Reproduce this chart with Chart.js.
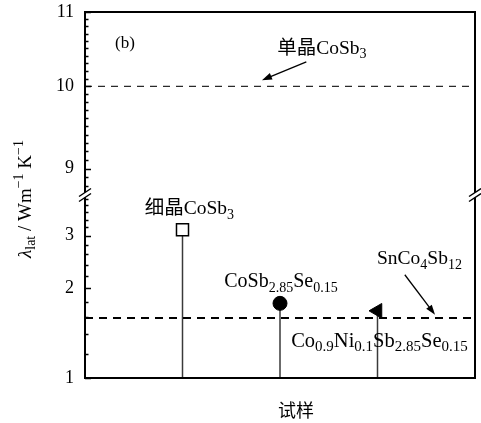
<!DOCTYPE html>
<html>
<head>
<meta charset="utf-8">
<script src="https://cdn.jsdelivr.net/npm/chart.js@4.4.1/dist/chart.umd.min.js"></script>
<style>
  html, body { margin: 0; padding: 0; background: #fff; }
  #wrap { width: 481px; height: 423px; }
</style>
</head>
<body>
<div id="wrap"><canvas id="c" width="481" height="423"></canvas></div>
<script>
// Samples along the horizontal axis and their lattice thermal conductivity (W m^-1 K^-1)
const samplePos = [1, 2, 3];
const latticeK = [3.14, 1.78, 1.68];
const markerStyle = ['rect', 'circle', 'triangle'];

// Reference levels drawn as dashed lines
const singleCrystalK = 10;   // 单晶 CoSb3
const filledK = 1.59;        // SnCo4Sb12

// Tick values of the broken (two-part) logarithmic axis
const upperMajor = [9, 10, 11];
const upperMinor = [8.8, 8.9, 9.1, 9.2, 9.3, 9.4, 9.5, 9.6, 9.7, 9.8, 9.9,
                    10.1, 10.2, 10.3, 10.4, 10.5, 10.6, 10.7, 10.8, 10.9];
const lowerMajor = [1, 2, 3];
const lowerMinor = [1.2, 1.4, 1.6, 1.8, 2.2, 2.4, 2.6, 2.8, 3.2, 3.4, 3.6, 3.8, 4.0];

const SERIF = "'Liberation Serif', 'Noto Sans CJK SC', serif";
const CJK = "'Noto Sans CJK SC', sans-serif";

function tickList(major, minor) {
  return major.map(v => ({ value: v, major: true }))
    .concat(minor.map(v => ({ value: v, major: false })))
    .sort((a, b) => a.value - b.value);
}

function yAxis(min, max, major, minor) {
  return {
    type: 'logarithmic',
    position: 'left',
    stack: 'lambda',
    stackWeight: 1,
    min: min,
    max: max,
    grid: { display: false, drawTicks: false },
    border: { display: false },
    ticks: {
      autoSkip: false,
      padding: 11,
      color: '#000',
      font: { family: SERIF, size: 18 },
      callback: v => (major.includes(v) ? String(v) : '')
    },
    afterBuildTicks: s => { s.ticks = tickList(major, minor); },
    afterFit: s => {
      s.width = 85;
      s.paddingTop = 0; s.paddingBottom = 0; s.paddingLeft = 0; s.paddingRight = 0;
    }
  };
}

// Stems from the bottom of the axis up to each sample's marker
const stemSets = samplePos.map((x, i) => ({
  data: [{ x: x, y: 1 }, { x: x, y: latticeK[i] }],
  yAxisID: 'yLow',
  showLine: true,
  borderColor: '#3a3a3a',
  borderWidth: 1.5,
  pointRadius: 0,
  order: 3
}));

const markerSet = {
  data: samplePos.map((x, i) => ({ x: x, y: latticeK[i] })),
  yAxisID: 'yLow',
  showLine: false,
  pointStyle: markerStyle,
  pointRotation: [0, 0, -90],
  pointRadius: [8.5, 7, 8.5],
  pointBackgroundColor: ['#fff', '#000', '#000'],
  pointBorderColor: '#000',
  pointBorderWidth: [1.5, 1, 1],
  order: 1
};

const singleLine = {
  data: [{ x: 0, y: singleCrystalK }, { x: 4, y: singleCrystalK }],
  yAxisID: 'yHigh',
  showLine: true,
  borderColor: '#2a2a2a',
  borderWidth: 1.3,
  borderDash: [7, 6],
  pointRadius: 0,
  order: 2
};

const filledLine = {
  data: [{ x: 0, y: filledK }, { x: 4, y: filledK }],
  yAxisID: 'yLow',
  showLine: true,
  borderColor: '#000',
  borderWidth: 2,
  borderDash: [8, 6],
  pointRadius: 0,
  order: 2
};

// Rich text: [text, kind] with kind 'n' normal, 'i' italic, 'b' subscript, 'p' superscript
function fontFor(k, size) {
  if (k === 'b' || k === 'p') return `${Math.round(size * 0.72)}px ${SERIF}`;
  if (k === 'i') return `italic ${size}px ${SERIF}`;
  return `${size}px ${SERIF}`;
}
function richWidth(ctx, parts, size) {
  let w = 0;
  for (const [t, k] of parts) {
    ctx.font = fontFor(k, size);
    w += ctx.measureText(t).width;
  }
  return w;
}
function drawRich(ctx, parts, cx, cy, size) {
  const w = richWidth(ctx, parts, size);
  let x = cx - w / 2;
  const base = cy + size * 0.33;
  ctx.textAlign = 'left';
  ctx.textBaseline = 'alphabetic';
  for (const [t, k] of parts) {
    ctx.font = fontFor(k, size);
    let y = base;
    if (k === 'b') y += size * 0.22;
    if (k === 'p') y -= size * 0.42;
    ctx.fillText(t, x, y);
    x += ctx.measureText(t).width;
  }
}
function arrow(ctx, x1, y1, x2, y2) {
  const a = Math.atan2(y2 - y1, x2 - x1);
  const hl = 10, hw = 3.5;
  ctx.beginPath();
  ctx.moveTo(x1, y1);
  ctx.lineTo(x2 - hl * 0.8 * Math.cos(a), y2 - hl * 0.8 * Math.sin(a));
  ctx.stroke();
  ctx.beginPath();
  ctx.moveTo(x2, y2);
  ctx.lineTo(x2 - hl * Math.cos(a) + hw * Math.sin(a), y2 - hl * Math.sin(a) - hw * Math.cos(a));
  ctx.lineTo(x2 - hl * Math.cos(a) - hw * Math.sin(a), y2 - hl * Math.sin(a) + hw * Math.cos(a));
  ctx.closePath();
  ctx.fill();
}

const labels = [
  { axis: 'yHigh', x: 0.41, y: 10.58, parts: [['(b)', 'n']], size: 17 },
  { axis: 'yHigh', x: 2.43, y: 10.51, parts: [['单晶', 'n'], ['CoSb', 'n'], ['3', 'b']], size: 19.5 },
  { axis: 'yLow', x: 1.07, y: 3.72, parts: [['细晶', 'n'], ['CoSb', 'n'], ['3', 'b']], size: 19.5 },
  { axis: 'yLow', x: 2.01, y: 2.12, parts: [['CoSb', 'n'], ['2.85', 'b'], ['Se', 'n'], ['0.15', 'b']], size: 20 },
  { axis: 'yLow', x: 3.43, y: 2.53, parts: [['SnCo', 'n'], ['4', 'b'], ['Sb', 'n'], ['12', 'b']], size: 19.5 },
  { axis: 'yLow', x: 3.02, y: 1.34, parts: [['Co', 'n'], ['0.9', 'b'], ['Ni', 'n'], ['0.1', 'b'], ['Sb', 'n'], ['2.85', 'b'], ['Se', 'n'], ['0.15', 'b']], size: 20.5 }
];
const arrows = [
  { axis: 'yHigh', x1: 2.27, y1: 10.32, x2: 1.815, y2: 10.08 },
  { axis: 'yLow', x1: 3.28, y1: 2.22, x2: 3.59, y2: 1.63 }
];

const decor = {
  id: 'decor',
  afterDraw(chart) {
    const ctx = chart.ctx;
    const area = chart.chartArea;
    const xs = chart.scales.x;
    const hi = chart.scales.yHigh, lo = chart.scales.yLow;
    ctx.save();
    ctx.strokeStyle = '#000';
    ctx.fillStyle = '#000';

    // inward tick marks on the left axis
    ctx.lineWidth = 1.5;
    for (const s of [hi, lo]) {
      for (const t of s.ticks) {
        const y = Math.round(s.getPixelForValue(t.value)) + 0.5;
        if (y < s.top - 1 || y > s.bottom + 1) continue;
        const len = t.major ? 6 : 3.5;
        ctx.beginPath();
        ctx.moveTo(area.left, y);
        ctx.lineTo(area.left + len, y);
        ctx.stroke();
      }
    }

    // frame
    ctx.lineWidth = 2;
    ctx.strokeRect(area.left, area.top, area.right - area.left, area.bottom - area.top);

    // axis break marks
    const yb = (hi.bottom + lo.top) / 2;
    for (const xb of [area.left, area.right]) {
      ctx.fillStyle = '#fff';
      ctx.beginPath();
      ctx.moveTo(xb - 6, yb + 1.5);
      ctx.lineTo(xb + 6, yb - 6.5);
      ctx.lineTo(xb + 6, yb - 1.5);
      ctx.lineTo(xb - 6, yb + 6.5);
      ctx.closePath();
      ctx.fill();
      ctx.lineWidth = 1.5;
      ctx.beginPath();
      ctx.moveTo(xb - 6, yb + 1.5); ctx.lineTo(xb + 6, yb - 6.5);
      ctx.moveTo(xb - 6, yb + 6.5); ctx.lineTo(xb + 6, yb - 1.5);
      ctx.stroke();
    }
    ctx.fillStyle = '#000';

    // annotations
    for (const l of labels) {
      const s = chart.scales[l.axis];
      drawRich(ctx, l.parts, xs.getPixelForValue(l.x), s.getPixelForValue(l.y), l.size);
    }
    ctx.lineWidth = 1.3;
    for (const a of arrows) {
      const s = chart.scales[a.axis];
      arrow(ctx, xs.getPixelForValue(a.x1), s.getPixelForValue(a.y1),
                 xs.getPixelForValue(a.x2), s.getPixelForValue(a.y2));
    }

    // axis titles
    ctx.save();
    ctx.translate(25, 199);
    ctx.rotate(-Math.PI / 2);
    drawRich(ctx, [['λ', 'i'], ['lat', 'b'], [' / Wm', 'n'], ['−1', 'p'], [' K', 'n'], ['−1', 'p']], 0, 0, 19);
    ctx.restore();

    ctx.font = `18px ${CJK}`;
    ctx.textAlign = 'center';
    ctx.textBaseline = 'middle';
    ctx.fillText('试样', 296, 410);
    ctx.restore();
  }
};

new Chart(document.getElementById('c'), {
  type: 'scatter',
  data: { datasets: [...stemSets, markerSet, singleLine, filledLine] },
  options: {
    responsive: false,
    animation: false,
    devicePixelRatio: 1,
    layout: { autoPadding: false, padding: { left: 0, right: 6, top: 12, bottom: 45 } },
    plugins: { legend: { display: false }, tooltip: { enabled: false } },
    scales: {
      x: { type: 'linear', min: 0, max: 4, display: false },
      yLow: yAxis(1, 4.11, lowerMajor, lowerMinor),
      yHigh: yAxis(8.74, 11, upperMajor, upperMinor)
    }
  },
  plugins: [decor]
});
</script>
</body>
</html>
